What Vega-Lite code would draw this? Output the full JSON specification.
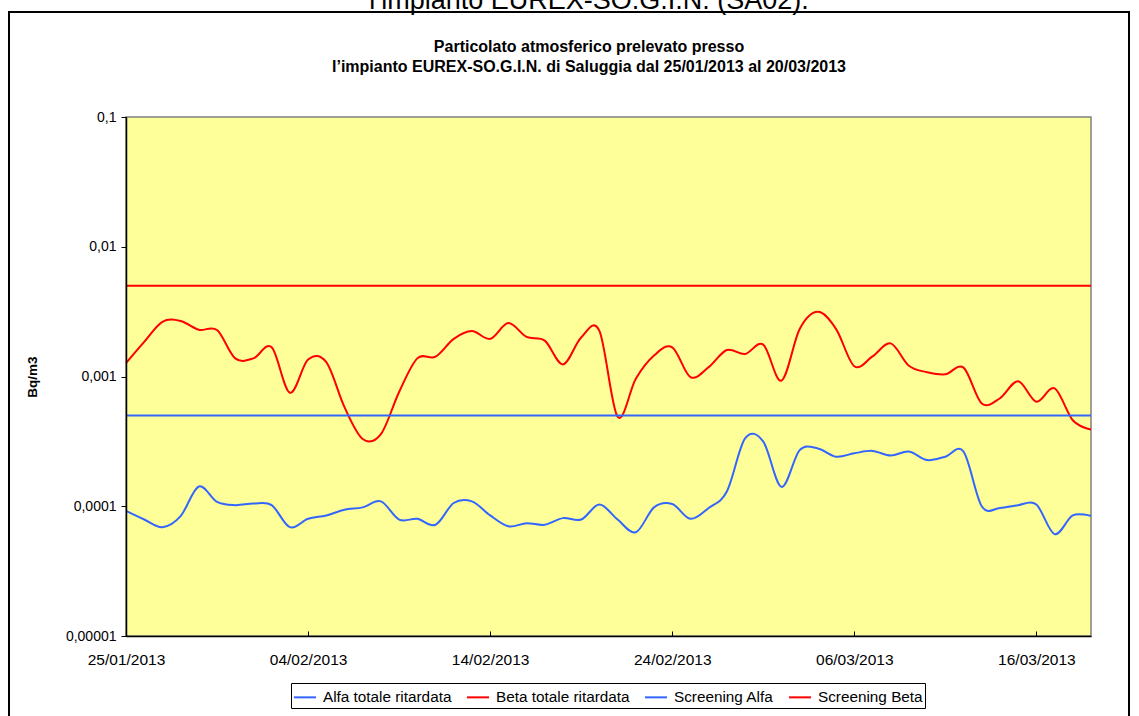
{
  "$schema": "https://vega.github.io/schema/vega-lite/v6.json",
  "autosize": "none",
  "width": 1120,
  "height": 712,
  "padding": {"left": 9, "top": 12, "right": 10, "bottom": 0},
  "background": "white",
  "title": {
    "text": "l’impianto EUREX-SO.G.I.N. (SA02).",
    "subtitle": ["Particolato atmosferico prelevato presso", "l’impianto EUREX-SO.G.I.N. di Saluggia dal 25/01/2013 al 20/03/2013"],
    "anchor": "middle",
    "frame": "group",
    "dx": 20,
    "offset": -64,
    "font": "Liberation Sans",
    "fontSize": 27,
    "fontWeight": "normal",
    "color": "black",
    "subtitleFont": "Liberation Sans",
    "subtitleFontSize": 16,
    "subtitleFontWeight": "bold",
    "subtitleColor": "black",
    "subtitleLineHeight": 20,
    "subtitlePadding": 24
  },
  "data": {
    "values": [
      {"date": "2013-01-25", "serie": "Alfa totale ritardata", "valore": 0.000092},
      {"date": "2013-01-26", "serie": "Alfa totale ritardata", "valore": 0.000079},
      {"date": "2013-01-27", "serie": "Alfa totale ritardata", "valore": 0.000069},
      {"date": "2013-01-28", "serie": "Alfa totale ritardata", "valore": 0.000084},
      {"date": "2013-01-29", "serie": "Alfa totale ritardata", "valore": 0.000142},
      {"date": "2013-01-30", "serie": "Alfa totale ritardata", "valore": 0.000108},
      {"date": "2013-01-31", "serie": "Alfa totale ritardata", "valore": 0.000102},
      {"date": "2013-02-01", "serie": "Alfa totale ritardata", "valore": 0.000105},
      {"date": "2013-02-02", "serie": "Alfa totale ritardata", "valore": 0.000102},
      {"date": "2013-02-03", "serie": "Alfa totale ritardata", "valore": 0.000069},
      {"date": "2013-02-04", "serie": "Alfa totale ritardata", "valore": 0.000080},
      {"date": "2013-02-05", "serie": "Alfa totale ritardata", "valore": 0.000085},
      {"date": "2013-02-06", "serie": "Alfa totale ritardata", "valore": 0.000094},
      {"date": "2013-02-07", "serie": "Alfa totale ritardata", "valore": 0.000098},
      {"date": "2013-02-08", "serie": "Alfa totale ritardata", "valore": 0.000109},
      {"date": "2013-02-09", "serie": "Alfa totale ritardata", "valore": 0.000079},
      {"date": "2013-02-10", "serie": "Alfa totale ritardata", "valore": 0.000080},
      {"date": "2013-02-11", "serie": "Alfa totale ritardata", "valore": 0.000072},
      {"date": "2013-02-12", "serie": "Alfa totale ritardata", "valore": 0.000106},
      {"date": "2013-02-13", "serie": "Alfa totale ritardata", "valore": 0.000109},
      {"date": "2013-02-14", "serie": "Alfa totale ritardata", "valore": 0.000085},
      {"date": "2013-02-15", "serie": "Alfa totale ritardata", "valore": 0.000070},
      {"date": "2013-02-16", "serie": "Alfa totale ritardata", "valore": 0.000074},
      {"date": "2013-02-17", "serie": "Alfa totale ritardata", "valore": 0.000072},
      {"date": "2013-02-18", "serie": "Alfa totale ritardata", "valore": 0.000081},
      {"date": "2013-02-19", "serie": "Alfa totale ritardata", "valore": 0.000079},
      {"date": "2013-02-20", "serie": "Alfa totale ritardata", "valore": 0.000103},
      {"date": "2013-02-21", "serie": "Alfa totale ritardata", "valore": 0.000079},
      {"date": "2013-02-22", "serie": "Alfa totale ritardata", "valore": 0.000063},
      {"date": "2013-02-23", "serie": "Alfa totale ritardata", "valore": 0.000098},
      {"date": "2013-02-24", "serie": "Alfa totale ritardata", "valore": 0.000104},
      {"date": "2013-02-25", "serie": "Alfa totale ritardata", "valore": 0.000080},
      {"date": "2013-02-26", "serie": "Alfa totale ritardata", "valore": 0.000097},
      {"date": "2013-02-27", "serie": "Alfa totale ritardata", "valore": 0.000130},
      {"date": "2013-02-28", "serie": "Alfa totale ritardata", "valore": 0.000333},
      {"date": "2013-03-01", "serie": "Alfa totale ritardata", "valore": 0.000315},
      {"date": "2013-03-02", "serie": "Alfa totale ritardata", "valore": 0.000141},
      {"date": "2013-03-03", "serie": "Alfa totale ritardata", "valore": 0.000271},
      {"date": "2013-03-04", "serie": "Alfa totale ritardata", "valore": 0.000279},
      {"date": "2013-03-05", "serie": "Alfa totale ritardata", "valore": 0.000241},
      {"date": "2013-03-06", "serie": "Alfa totale ritardata", "valore": 0.000256},
      {"date": "2013-03-07", "serie": "Alfa totale ritardata", "valore": 0.000267},
      {"date": "2013-03-08", "serie": "Alfa totale ritardata", "valore": 0.000246},
      {"date": "2013-03-09", "serie": "Alfa totale ritardata", "valore": 0.000264},
      {"date": "2013-03-10", "serie": "Alfa totale ritardata", "valore": 0.000227},
      {"date": "2013-03-11", "serie": "Alfa totale ritardata", "valore": 0.000241},
      {"date": "2013-03-12", "serie": "Alfa totale ritardata", "valore": 0.000264},
      {"date": "2013-03-13", "serie": "Alfa totale ritardata", "valore": 0.000100},
      {"date": "2013-03-14", "serie": "Alfa totale ritardata", "valore": 0.000097},
      {"date": "2013-03-15", "serie": "Alfa totale ritardata", "valore": 0.000102},
      {"date": "2013-03-16", "serie": "Alfa totale ritardata", "valore": 0.000103},
      {"date": "2013-03-17", "serie": "Alfa totale ritardata", "valore": 0.000061},
      {"date": "2013-03-18", "serie": "Alfa totale ritardata", "valore": 0.000085},
      {"date": "2013-03-19", "serie": "Alfa totale ritardata", "valore": 0.000084},
      {"date": "2013-01-25", "serie": "Beta totale ritardata", "valore": 0.00127},
      {"date": "2013-01-26", "serie": "Beta totale ritardata", "valore": 0.00185},
      {"date": "2013-01-27", "serie": "Beta totale ritardata", "valore": 0.00264},
      {"date": "2013-01-28", "serie": "Beta totale ritardata", "valore": 0.00268},
      {"date": "2013-01-29", "serie": "Beta totale ritardata", "valore": 0.00229},
      {"date": "2013-01-30", "serie": "Beta totale ritardata", "valore": 0.00228},
      {"date": "2013-01-31", "serie": "Beta totale ritardata", "valore": 0.00138},
      {"date": "2013-02-01", "serie": "Beta totale ritardata", "valore": 0.00138},
      {"date": "2013-02-02", "serie": "Beta totale ritardata", "valore": 0.00168},
      {"date": "2013-02-03", "serie": "Beta totale ritardata", "valore": 0.00075},
      {"date": "2013-02-04", "serie": "Beta totale ritardata", "valore": 0.00135},
      {"date": "2013-02-05", "serie": "Beta totale ritardata", "valore": 0.00129},
      {"date": "2013-02-06", "serie": "Beta totale ritardata", "valore": 0.00058},
      {"date": "2013-02-07", "serie": "Beta totale ritardata", "valore": 0.00033},
      {"date": "2013-02-08", "serie": "Beta totale ritardata", "valore": 0.00036},
      {"date": "2013-02-09", "serie": "Beta totale ritardata", "valore": 0.00076},
      {"date": "2013-02-10", "serie": "Beta totale ritardata", "valore": 0.00138},
      {"date": "2013-02-11", "serie": "Beta totale ritardata", "valore": 0.00142},
      {"date": "2013-02-12", "serie": "Beta totale ritardata", "valore": 0.00195},
      {"date": "2013-02-13", "serie": "Beta totale ritardata", "valore": 0.00224},
      {"date": "2013-02-14", "serie": "Beta totale ritardata", "valore": 0.00195},
      {"date": "2013-02-15", "serie": "Beta totale ritardata", "valore": 0.00258},
      {"date": "2013-02-16", "serie": "Beta totale ritardata", "valore": 0.00202},
      {"date": "2013-02-17", "serie": "Beta totale ritardata", "valore": 0.00189},
      {"date": "2013-02-18", "serie": "Beta totale ritardata", "valore": 0.00124},
      {"date": "2013-02-19", "serie": "Beta totale ritardata", "valore": 0.00200},
      {"date": "2013-02-20", "serie": "Beta totale ritardata", "valore": 0.00225},
      {"date": "2013-02-21", "serie": "Beta totale ritardata", "valore": 0.00049},
      {"date": "2013-02-22", "serie": "Beta totale ritardata", "valore": 0.00096},
      {"date": "2013-02-23", "serie": "Beta totale ritardata", "valore": 0.00145},
      {"date": "2013-02-24", "serie": "Beta totale ritardata", "valore": 0.00168},
      {"date": "2013-02-25", "serie": "Beta totale ritardata", "valore": 0.00099},
      {"date": "2013-02-26", "serie": "Beta totale ritardata", "valore": 0.00118},
      {"date": "2013-02-27", "serie": "Beta totale ritardata", "valore": 0.00160},
      {"date": "2013-02-28", "serie": "Beta totale ritardata", "valore": 0.00149},
      {"date": "2013-03-01", "serie": "Beta totale ritardata", "valore": 0.00176},
      {"date": "2013-03-02", "serie": "Beta totale ritardata", "valore": 0.00093},
      {"date": "2013-03-03", "serie": "Beta totale ritardata", "valore": 0.00232},
      {"date": "2013-03-04", "serie": "Beta totale ritardata", "valore": 0.00315},
      {"date": "2013-03-05", "serie": "Beta totale ritardata", "valore": 0.00232},
      {"date": "2013-03-06", "serie": "Beta totale ritardata", "valore": 0.00120},
      {"date": "2013-03-07", "serie": "Beta totale ritardata", "valore": 0.00143},
      {"date": "2013-03-08", "serie": "Beta totale ritardata", "valore": 0.00180},
      {"date": "2013-03-09", "serie": "Beta totale ritardata", "valore": 0.00121},
      {"date": "2013-03-10", "serie": "Beta totale ritardata", "valore": 0.00108},
      {"date": "2013-03-11", "serie": "Beta totale ritardata", "valore": 0.00104},
      {"date": "2013-03-12", "serie": "Beta totale ritardata", "valore": 0.00117},
      {"date": "2013-03-13", "serie": "Beta totale ritardata", "valore": 0.00062},
      {"date": "2013-03-14", "serie": "Beta totale ritardata", "valore": 0.00068},
      {"date": "2013-03-15", "serie": "Beta totale ritardata", "valore": 0.00092},
      {"date": "2013-03-16", "serie": "Beta totale ritardata", "valore": 0.00064},
      {"date": "2013-03-17", "serie": "Beta totale ritardata", "valore": 0.00081},
      {"date": "2013-03-18", "serie": "Beta totale ritardata", "valore": 0.00046},
      {"date": "2013-03-19", "serie": "Beta totale ritardata", "valore": 0.00039},
      {"date": "2013-01-25", "serie": "Screening Alfa", "valore": 0.0005},
      {"date": "2013-03-19", "serie": "Screening Alfa", "valore": 0.0005},
      {"date": "2013-01-25", "serie": "Screening Beta", "valore": 0.005},
      {"date": "2013-03-19", "serie": "Screening Beta", "valore": 0.005}
    ]
  },
  "layer": [
    {
      "data": {"values": [{}]},
      "mark": {"type": "rect", "fill": "#FFFF99", "stroke": "#808080", "strokeWidth": 1.5},
      "encoding": {
        "x": {"datum": {"year": 2013, "month": 1, "date": 25, "utc": true}, "type": "temporal"},
        "x2": {"datum": {"year": 2013, "month": 3, "date": 19, "utc": true}},
        "y": {"datum": 0.00001, "type": "quantitative"},
        "y2": {"datum": 0.1}
      }
    },
    {
      "mark": {"type": "line", "interpolate": "cardinal", "strokeWidth": 2, "clip": false},
      "encoding": {
        "x": {
          "field": "date",
          "type": "temporal",
          "scale": {
            "type": "utc",
            "domain": [{"year": 2013, "month": 1, "date": 25, "utc": true}, {"year": 2013, "month": 3, "date": 19, "utc": true}],
            "range": [117, 1082],
            "nice": false
          },
          "axis": {
            "title": null,
            "orient": "bottom",
            "offset": -88,
            "values": [
              {"year": 2013, "month": 1, "date": 25, "utc": true},
              {"year": 2013, "month": 2, "date": 4, "utc": true},
              {"year": 2013, "month": 2, "date": 14, "utc": true},
              {"year": 2013, "month": 2, "date": 24, "utc": true},
              {"year": 2013, "month": 3, "date": 6, "utc": true},
              {"year": 2013, "month": 3, "date": 16, "utc": true}
            ],
            "labelExpr": "utcFormat(datum.value, '%d/%m/%Y')",
            "grid": false,
            "domainColor": "black",
            "domainWidth": 1.5,
            "tickColor": "black",
            "tickSize": -5,
            "labelPadding": 21,
            "labelFontSize": 15.5,
            "labelColor": "black",
            "labelFlush": false,
            "labelOverlap": false,
            "zindex": 2
          }
        },
        "y": {
          "field": "valore",
          "type": "quantitative",
          "scale": {"type": "log", "domain": [0.00001, 0.1], "range": [624, 105], "nice": false},
          "axis": {
            "title": "Bq/m3",
            "titleFontSize": 13.5,
            "titleFontWeight": "bold",
            "titleColor": "black",
            "titleX": -87,
            "offset": -117,
            "values": [0.00001, 0.0001, 0.001, 0.01, 0.1],
            "labelExpr": "datum.value > 0.05 ? '0,1' : datum.value > 0.005 ? '0,01' : datum.value > 0.0005 ? '0,001' : datum.value > 0.00005 ? '0,0001' : '0,00001'",
            "grid": false,
            "domainColor": "black",
            "domainWidth": 1.5,
            "tickColor": "black",
            "tickSize": 5,
            "labelPadding": 5,
            "labelFontSize": 14,
            "labelColor": "black",
            "labelFlush": false,
            "labelOverlap": false,
            "zindex": 2
          }
        },
        "color": {
          "field": "serie",
          "type": "nominal",
          "scale": {
            "domain": ["Alfa totale ritardata", "Beta totale ritardata", "Screening Alfa", "Screening Beta"],
            "range": ["#3366FF", "#FF0000", "#3366FF", "#FF0000"]
          },
          "legend": {
            "title": null,
            "orient": "none",
            "legendX": 282,
            "legendY": 671,
            "direction": "horizontal",
            "columns": 4,
            "symbolType": "stroke",
            "symbolStrokeWidth": 2,
            "symbolSize": 484,
            "labelFontSize": 15.3,
            "labelColor": "black",
            "labelOffset": 6,
            "columnPadding": 11,
            "padding": 2,
            "strokeColor": "black",
            "fillColor": "white",
            "labelLimit": 300
          }
        }
      }
    }
  ],
  "config": {
    "font": "Liberation Sans",
    "view": {"stroke": "black", "strokeWidth": 2},
    "legend": {"strokeWidth": 1}
  }
}
